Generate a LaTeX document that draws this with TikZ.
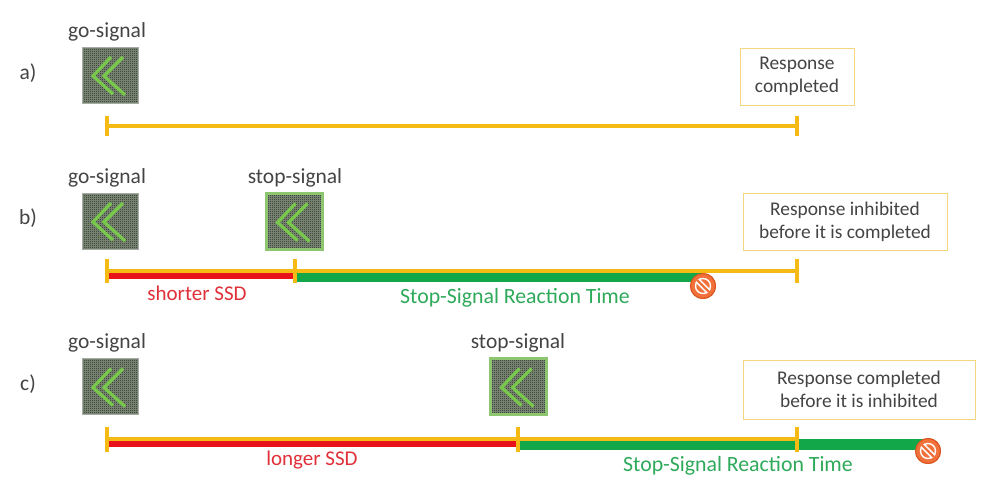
\documentclass[tikz,border=0pt]{standalone}
\usepackage{fontspec}
\setmainfont{Carlito}
\definecolor{gold}{HTML}{F5BA14}
\definecolor{redl}{HTML}{E8121B}
\definecolor{greenl}{HTML}{12A84A}
\definecolor{greent}{HTML}{2EAA5A}
\definecolor{redt}{HTML}{E0303A}
\definecolor{txt}{HTML}{444444}
\definecolor{boxc}{HTML}{F3D67E}
\definecolor{icondark}{HTML}{404B3F}
\definecolor{icongrid}{HTML}{76826F}
\definecolor{chev}{HTML}{78C84C}
\definecolor{stopb}{HTML}{8DC66E}
\definecolor{gob}{HTML}{A8ACA6}
\definecolor{nofill}{HTML}{F2713A}
\definecolor{nodraw}{HTML}{DA5520}
\tikzset{
  lbl/.style={text=txt, font=\fontsize{21.5}{25}\selectfont, inner sep=0pt},
  sig/.style={minimum size=56pt, inner sep=0pt, fill=icondark,
    path picture={
      \begin{scope}[shift={(path picture bounding box.center)}]
        \foreach \i in {-27,-25,...,27} {
          \draw[icongrid, line width=0.6pt] (\i pt,-30pt) -- (\i pt,30pt);
          \draw[icongrid, line width=0.6pt] (-30pt,\i pt) -- (30pt,\i pt);
        }
        \draw[chev, line width=3.2pt, line join=miter] (1pt,18pt) -- (-17pt,-1pt) -- (3pt,-19pt);
        \draw[chev, line width=3.2pt, line join=miter] (13pt,18pt) -- (-6pt,-1pt) -- (15pt,-20pt);
      \end{scope}
    }},
  gosig/.style={sig, draw=gob, line width=1pt},
  stopsig/.style={sig, draw=stopb, line width=3pt},
  resp/.style={draw=boxc, line width=1pt, align=center, text=txt,
    font=\fontsize{19.4}{23}\selectfont, inner sep=0pt},
  yline/.style={gold, line width=4pt},
  rline/.style={redl, line width=6pt},
  gline/.style={greenl, line width=11pt},
  tick/.style={gold, line width=4pt},
  redlbl/.style={text=redt, font=\fontsize{21}{25}\selectfont, inner sep=0pt},
  greenlbl/.style={text=greent, font=\fontsize{21.8}{25}\selectfont, inner sep=0pt},
  nosign/.style={circle, minimum size=25pt, inner sep=0pt, fill=nofill, draw=nodraw, line width=1pt,
    path picture={
      \begin{scope}[shift={(path picture bounding box.center)}]
        \draw[white, line width=1.4pt] (0,0) circle (7.5pt);
        \draw[white, line width=5.5pt] (135:7.8pt) -- (-45:7.8pt);
        \draw[nofill, line width=2.4pt] (135:8.2pt) -- (-45:8.2pt);
      \end{scope}
    }},
}
\begin{document}
\begin{tikzpicture}[x=1pt, y=-1pt]
\useasboundingbox[fill=white] (0,0) rectangle (993,493);

% ---------- row a ----------
\node[lbl] (la) at (28,73) {a)};
\node[lbl] (gta) at (107,32) {go-signal};
\node[gosig] (goa) at (110,75) {};
\node[resp, minimum width=114pt, minimum height=57pt] (ra) at (797,76.5) {Response\\completed};
\coordinate (a0) at (107,126);
\coordinate (a1) at (797,126);
\draw[yline] (a0) -- (a1);
\draw[tick] ([yshift=-10pt]a0) -- ([yshift=10pt]a0);
\draw[tick] ([yshift=-10pt]a1) -- ([yshift=10pt]a1);

% ---------- row b ----------
\node[lbl] (lb) at (28,218) {b)};
\node[lbl] (gtb) at (107,178) {go-signal};
\node[gosig] (gob) at (110,221) {};
\node[lbl] (stb) at (295,178) {stop-signal};
\node[stopsig] (sgb) at (294.5,221.5) {};
\node[resp, minimum width=204pt, minimum height=57pt] (rb) at (845,221.5) {Response inhibited\\before it is completed};
\coordinate (b0) at (107,271);
\coordinate (b1) at (295,271);
\coordinate (b2) at (797,271);
\node[nosign] (nb) at (703,286) {};
\draw[rline] ([yshift=-5pt]b0) -- ([yshift=-5pt]b1);
\draw[gline] ([yshift=-5.5pt]b1) -- ([yshift=-5.5pt]b1 -| nb);
\draw[yline] (b0) -- (b2);
\draw[tick] ([yshift=12pt]b0) -- ([yshift=-12pt]b0);
\draw[tick] ([yshift=12pt]b1) -- ([yshift=-12pt]b1);
\draw[tick] ([yshift=12pt]b2) -- ([yshift=-12pt]b2);
\node[nosign] at (nb) {};
\node[redlbl] (ssdb) at (197,293) {shorter SSD};
\node[greenlbl] (srtb) at (515,298) {Stop-Signal Reaction Time};

% ---------- row c ----------
\node[lbl] (lc) at (28,384) {c)};
\node[lbl] (gtc) at (107,343) {go-signal};
\node[gosig] (goc) at (110,386.5) {};
\node[lbl] (stc) at (518,343) {stop-signal};
\node[stopsig] (sgc) at (518.5,386.5) {};
\node[resp, minimum width=232pt, minimum height=59pt] (rc) at (859,389.5) {Response completed\\before it is inhibited};
\coordinate (c0) at (107,439);
\coordinate (c1) at (518,439);
\coordinate (c2) at (797,439);
\node[nosign] (nc) at (928,451) {};
\draw[rline] ([yshift=-5pt]c0) -- ([yshift=-5pt]c1);
\draw[gline] ([yshift=-5.5pt]c1) -- ([yshift=-5.5pt]c1 -| nc);
\draw[yline] (c0) -- (c2);
\draw[tick] ([yshift=12pt]c0) -- ([yshift=-13pt]c0);
\draw[tick] ([yshift=12pt]c1) -- ([yshift=-13pt]c1);
\draw[tick] ([yshift=12pt]c2) -- ([yshift=-13pt]c2);
\node[nosign] at (nc) {};
\node[redlbl] (ssdc) at (312,460) {longer SSD};
\node[greenlbl] (srtc) at (738,466) {Stop-Signal Reaction Time};
\end{tikzpicture}
\end{document}
